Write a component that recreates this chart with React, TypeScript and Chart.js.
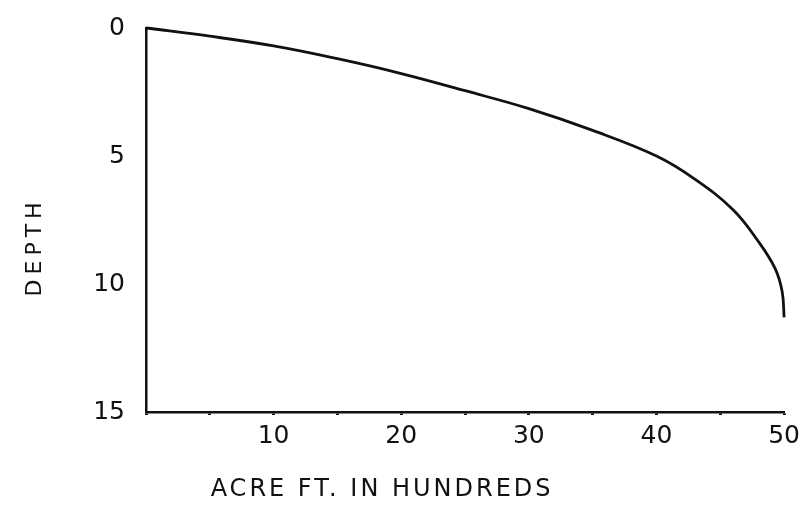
import React, { useEffect, useRef } from "react";
import { Chart, registerables } from "chart.js";

Chart.register(...registerables);

const acreFt = [0, 5, 10, 15, 20, 25, 30, 35, 40, 43, 46, 48, 49.3, 49.85, 50];
const depth = [0, 0.32, 0.7, 1.2, 1.78, 2.45, 3.15, 4.0, 5.0, 5.9, 7.1, 8.35, 9.4, 10.3, 11.3];
const xTicks = [10, 20, 30, 40, 50];
const yTicks = [0, 5, 10, 15];
const xTitle = "ACRE FT. IN HUNDREDS";
const yTitle = "DEPTH";

const FONT = "'DejaVu Sans', sans-serif";

const titlePlugin = {
  id: "handTitles",
  afterDraw(chart: any) {
    const { ctx, chartArea } = chart;
    ctx.save();
    ctx.fillStyle = "#111";
    ctx.textAlign = "center";
    ctx.textBaseline = "middle";
    (ctx as any).letterSpacing = "3px";
    ctx.font = `24px ${FONT}`;
    ctx.fillText(xTitle, chartArea.left + (chartArea.right - chartArea.left) * 0.37, 490);
    ctx.translate(35, chartArea.top + (chartArea.bottom - chartArea.top) * 0.57);
    ctx.rotate(-Math.PI / 2);
    (ctx as any).letterSpacing = "5px";
    ctx.font = `22px ${FONT}`;
    ctx.fillText(yTitle, 0, 0);
    ctx.restore();
  },
};

export default function App() {
  const ref = useRef<HTMLCanvasElement>(null);
  useEffect(() => {
    document.body.style.margin = "0";
    const chart = new Chart(ref.current!, {
      type: "scatter",
      data: {
        datasets: [
          {
            data: acreFt.map((x, i) => ({ x, y: depth[i] })),
            showLine: true,
            borderColor: "#111",
            borderWidth: 2.8,
            pointRadius: 0,
            tension: 0.4,
            fill: false,
            clip: false as any,
          },
        ],
      },
      options: {
        animation: false,
        responsive: false,
        layout: { padding: { top: 24, right: 21, left: 0, bottom: 0 } },
        plugins: { legend: { display: false }, tooltip: { enabled: false } },
        scales: {
          x: {
            type: "linear",
            min: 0,
            max: 50,
            afterFit: (s: any) => {
              s.height = 101;
            },
            border: { display: true, color: "#111", width: 2.5 },
            grid: { drawOnChartArea: false, drawTicks: true, tickLength: 3, tickWidth: 3, color: "#111" },
            ticks: {
              stepSize: 5,
              color: "#111",
              font: { family: FONT, size: 25 },
              padding: 6,
              maxRotation: 0,
              autoSkip: false,
              callback: (v: any) => (xTicks.includes(Number(v)) ? String(v) : ""),
            },
          },
          y: {
            type: "linear",
            min: 0,
            max: 15,
            reverse: true,
            afterFit: (s: any) => {
              s.width = 146;
            },
            border: { display: true, color: "#111", width: 2.5 },
            grid: { display: false },
            afterBuildTicks: (s: any) => {
              s.ticks = yTicks.map((v) => ({ value: v }));
            },
            ticks: {
              color: "#111",
              font: { family: FONT, size: 25 },
              padding: 13,
            },
          },
        },
      },
      plugins: [titlePlugin],
    });
    return () => chart.destroy();
  }, []);
  return (
    <div style={{ width: 806, height: 513, background: "#fff" }}>
      <canvas ref={ref} width={806} height={513} style={{ display: "block" }} />
    </div>
  );
}
